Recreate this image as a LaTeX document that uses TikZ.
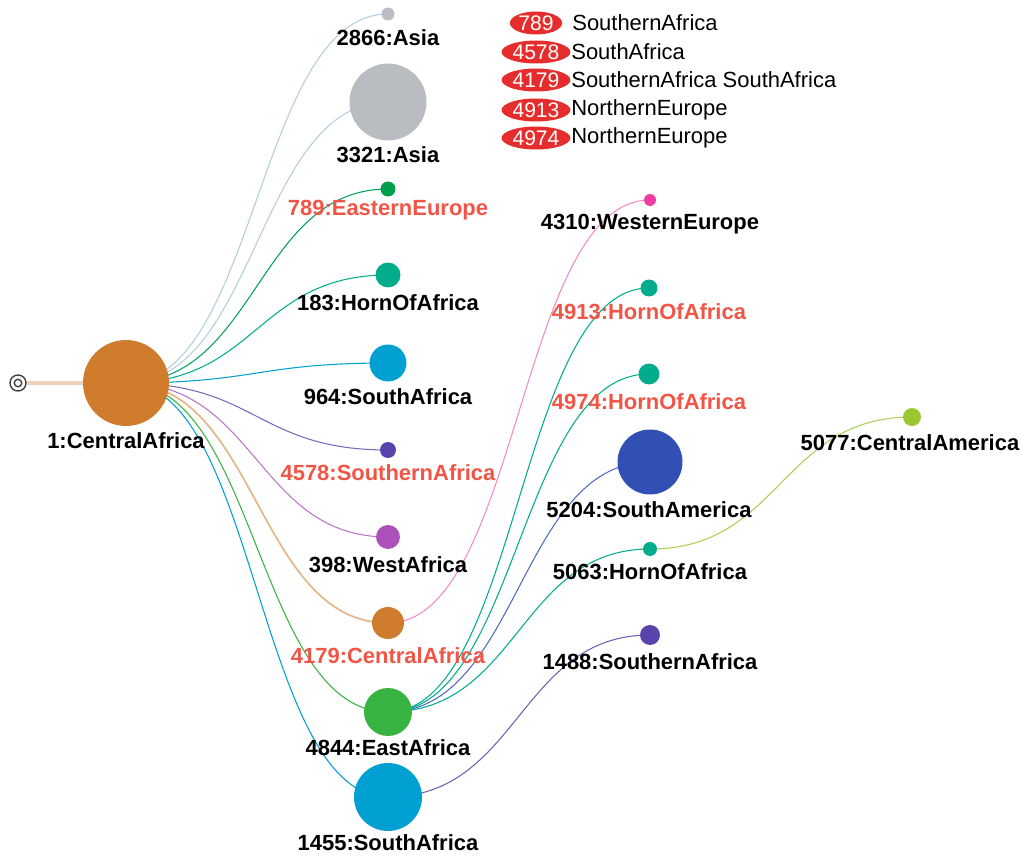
\documentclass[tikz,border=0pt]{standalone}
\usepackage{fontspec}
\setmainfont{Liberation Sans}
\usetikzlibrary{arrows.meta,positioning,shapes.geometric,calc,backgrounds}
\definecolor{central}{RGB}{207,125,45}
\definecolor{asia}{RGB}{185,188,192}
\definecolor{asialink}{RGB}{178,205,220}
\definecolor{eeurope}{RGB}{0,160,75}
\definecolor{horn}{RGB}{0,172,140}
\definecolor{safrica}{RGB}{0,160,210}
\definecolor{southern}{RGB}{88,68,172}
\definecolor{west}{RGB}{172,80,188}
\definecolor{east}{RGB}{55,180,65}
\definecolor{weurope}{RGB}{235,60,160}
\definecolor{samerica}{RGB}{50,80,180}
\definecolor{camerica}{RGB}{155,200,50}
\definecolor{tagred}{RGB}{230,45,45}
\definecolor{labred}{RGB}{240,85,70}

\begin{document}
\begin{tikzpicture}[x=0.02cm, y=-0.02cm,
  dot/.style 2 args={circle, fill=#1, inner sep=0pt, minimum size=#2*0.04cm},
  lab/.style={font=\bfseries\fontsize{12.5}{15}\selectfont, inner sep=1pt},
  labr/.style={lab, text=labred},
  treelink/.style={line width=0.6pt, to path={let \p1=(\tikztostart), \p2=(\tikztotarget) in
    .. controls ({0.5*\x1+0.5*\x2},\y1) and ({0.5*\x1+0.5*\x2},\y2) .. (\tikztotarget)}},
  tag/.style={ellipse, fill=tagred, text=white, inner xsep=0.5pt, inner ysep=0pt, minimum height=0.46cm, font=\fontsize{12}{14}\selectfont},
  legtext/.style={anchor=west, inner sep=0pt, font=\fontsize{12.5}{15}\selectfont}]
\useasboundingbox (0,0) rectangle (1022,858);
% Root
\node[draw=black!75, circle, line width=0.8pt, inner sep=0pt, minimum size=0.32cm] (root) at (18,383) {};
\node[draw=black!75, circle, line width=0.8pt, inner sep=0pt, minimum size=0.15cm] (rootin) at (18,383) {};
\node[dot={central}{43}] (n1) at (126,383) {};
\node[lab] (l1) at (126,441) {1:CentralAfrica};
% Second level
\node[dot={asia}{6.5}] (n2866) at (388,14) {};
\node[lab] (l2866) at (388,38) {2866:Asia};
\node[dot={asia}{38.5}] (n3321) at (388,102) {};
\node[lab] (l3321) at (388,155) {3321:Asia};
\node[dot={eeurope}{7.5}] (n789) at (388,189) {};
\node[labr] (l789) at (388,210) {789:EasternEurope};
\node[dot={horn}{12.5}] (n183) at (388,275) {};
\node[lab] (l183) at (388,303) {183:HornOfAfrica};
\node[dot={safrica}{18.5}] (n964) at (388,363) {};
\node[lab] (l964) at (388,397) {964:SouthAfrica};
\node[dot={southern}{8}] (n4578) at (388,450) {};
\node[labr] (l4578) at (388,473) {4578:SouthernAfrica};
\node[dot={west}{12}] (n398) at (388,537) {};
\node[lab] (l398) at (388,565) {398:WestAfrica};
\node[dot={central}{16}] (n4179) at (388,623) {};
\node[labr] (l4179) at (388,656) {4179:CentralAfrica};
\node[dot={east}{24}] (n4844) at (388,712) {};
\node[lab] (l4844) at (388,748) {4844:EastAfrica};
\node[dot={safrica}{34}] (n1455) at (388,797) {};
\node[lab] (l1455) at (388,843) {1455:SouthAfrica};
% Third level
\node[dot={weurope}{6}] (n4310) at (650,200) {};
\node[lab] (l4310) at (650,224) {4310:WesternEurope};
\node[dot={horn}{8.5}] (n4913) at (649,288) {};
\node[labr] (l4913) at (649,312) {4913:HornOfAfrica};
\node[dot={horn}{10.5}] (n4974) at (649,374) {};
\node[labr] (l4974) at (649,402) {4974:HornOfAfrica};
\node[dot={samerica}{32.5}] (n5204) at (650,462) {};
\node[lab] (l5204) at (649,510) {5204:SouthAmerica};
\node[dot={horn}{7}] (n5063) at (650,549) {};
\node[lab] (l5063) at (650,572) {5063:HornOfAfrica};
\node[dot={southern}{10}] (n1488) at (650,635) {};
\node[lab] (l1488) at (650,662) {1488:SouthernAfrica};
% Fourth level
\node[dot={camerica}{9}] (n5077) at (912,417) {};
\node[lab] (l5077) at (910,443) {5077:CentralAmerica};
% Legend
\node[tag] (t789) at (536,23) {789};
\node[legtext] (s789) at (572,23) {SouthernAfrica};
\node[tag] (t4578) at (536,52) {4578};
\node[legtext] (s4578) at (571,52) {SouthAfrica};
\node[tag] (t4179) at (536,80) {4179};
\node[legtext] (s4179) at (571,80) {SouthernAfrica SouthAfrica};
\node[tag] (t4913) at (536,110) {4913};
\node[legtext] (s4913) at (571,110) {NorthernEurope};
\node[tag] (t4974) at (536,138) {4974};
\node[legtext] (s4974) at (571,138) {NorthernEurope};
% Links
\begin{scope}[on background layer]
\draw[line width=1.8pt, central!35] (root) -- (n1);
\draw[treelink, asialink] (n1.center) to (n2866.center);
\draw[treelink, asialink] (n1.center) to (n3321.center);
\draw[treelink, eeurope!80!horn] (n1.center) to (n789.center);
\draw[treelink, horn] (n1.center) to (n183.center);
\draw[treelink, safrica] (n1.center) to (n964.center);
\draw[treelink, southern!80] (n1.center) to (n4578.center);
\draw[treelink, west!80] (n1.center) to (n398.center);
\draw[treelink, central!55, line width=1pt] (n1.center) to (n4179.center);
\draw[treelink, east] (n1.center) to (n4844.center);
\draw[treelink, safrica] (n1.center) to (n1455.center);
\draw[treelink, weurope!60] (n4179.center) to (n4310.center);
\draw[treelink, horn] (n4844.center) to (n4913.center);
\draw[treelink, horn] (n4844.center) to (n4974.center);
\draw[treelink, samerica!85] (n4844.center) to (n5204.center);
\draw[treelink, horn] (n4844.center) to (n5063.center);
\draw[treelink, southern!85] (n1455.center) to (n1488.center);
\draw[treelink, camerica!85] (n5063.center) to (n5077.center);
\end{scope}
\end{tikzpicture}
\end{document}
